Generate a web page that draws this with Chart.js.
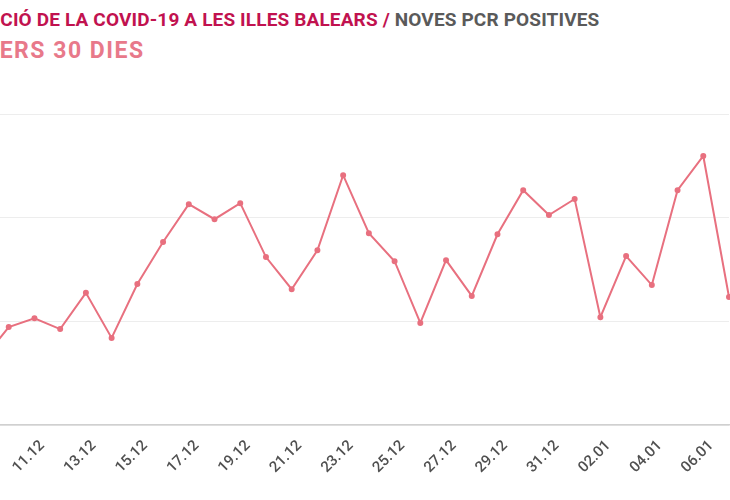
<!DOCTYPE html>
<html>
<head>
<meta charset="utf-8">
<script src="https://cdn.jsdelivr.net/npm/chart.js@4.4.1/dist/chart.umd.min.js"></script>
<style>
  html, body { margin: 0; padding: 0; width: 730px; height: 500px; overflow: hidden; background: #fff; }
  .line { position: absolute; left: 0; white-space: nowrap; font-family: Roboto, sans-serif; font-weight: 700; }
  #title { top: 8px; font-size: 19px; letter-spacing: 0.15px; color: #c1124f; }
  #title .grey { color: #5a5a5a; }
  #subtitle { top: 37px; font-size: 23px; letter-spacing: 1.5px; color: #e8798a; }
  #wrap { position: absolute; left: -57px; top: 100px; width: 792px; height: 400px; }
</style>
</head>
<body>
<div id="title" class="line">EVOLU<span class="cut">CIÓ DE LA COVID-19 A LES ILLES BALEARS /</span> <span class="grey">NOVES PCR POSITIVES</span></div>
<div id="subtitle" class="line">DARR<span class="cut">ERS 30 DIES</span></div>
<div id="wrap"><canvas id="myChart"></canvas></div>
<script>
// dates of the last 30 days
const dates = [
  "09.12", "10.12", "11.12", "12.12", "13.12", "14.12", "15.12", "16.12",
  "17.12", "18.12", "19.12", "20.12", "21.12", "22.12", "23.12", "24.12",
  "25.12", "26.12", "27.12", "28.12", "29.12", "30.12", "31.12", "01.01",
  "02.01", "03.01", "04.01", "05.01", "06.01", "07.01",
];

// new positive PCR per day
const positives = [
  127, 189, 206, 185, 255, 168, 272, 353,
  426, 397, 428, 324, 262, 337, 482, 370,
  316, 197, 318, 249, 368, 453, 405, 436,
  208, 326, 270, 453, 519, 247,
];

const yTicks = [0, 200, 400, 600];

// line up the visible part of the titles with the left edge, like the crop
document.querySelectorAll(".line").forEach(function (el) {
  const cut = el.querySelector(".cut");
  el.style.left = -cut.offsetLeft + "px";
});

const data = {
  labels: dates,
  datasets: [
    {
      label: "Noves PCR positives",
      data: positives,
      borderColor: "#e8707f",
      backgroundColor: "#e8707f",
      borderWidth: 2,
      pointRadius: 2,
      pointHoverRadius: 3,
      fill: false,
      tension: 0,
    },
  ],
};

const config = {
  type: "line",
  data,
  options: {
    responsive: true,
    maintainAspectRatio: false,
    animation: false,
    layout: { padding: { top: 14, right: 6, left: 0, bottom: 0 } },
    plugins: {
      legend: { display: false },
      tooltip: { enabled: false },
    },
    scales: {
      x: {
        offset: false,
        grid: { display: false, drawTicks: false },
        border: { display: true, color: "#d0d0d0", width: 1.5 },
        ticks: {
          autoSkip: false,
          maxRotation: 45,
          minRotation: 45,
          padding: 12,
          labelOffset: 8,
          color: "#505050",
          font: { family: "Roboto", size: 15, weight: "500" },
          // only every second date is labelled
          callback: function (val, i) {
            return i % 2 === 0 ? dates[i] : "";
          },
        },
        afterFit: function (scale) {
          scale.height = 75;
          scale.paddingLeft = 0;
          scale.paddingRight = 0;
        },
      },
      y: {
        min: yTicks[0],
        max: yTicks[yTicks.length - 1],
        afterBuildTicks: function (scale) {
          scale.ticks = yTicks.map(function (v) { return { value: v }; });
        },
        grid: { color: "#ededed", drawTicks: false },
        border: { display: false },
        ticks: { color: "#555", font: { family: "Roboto", size: 12 }, padding: 6 },
        afterFit: function (scale) {
          scale.width = 40;
        },
      },
    },
  },
};

new Chart(document.getElementById("myChart"), config);
</script>
</body>
</html>
